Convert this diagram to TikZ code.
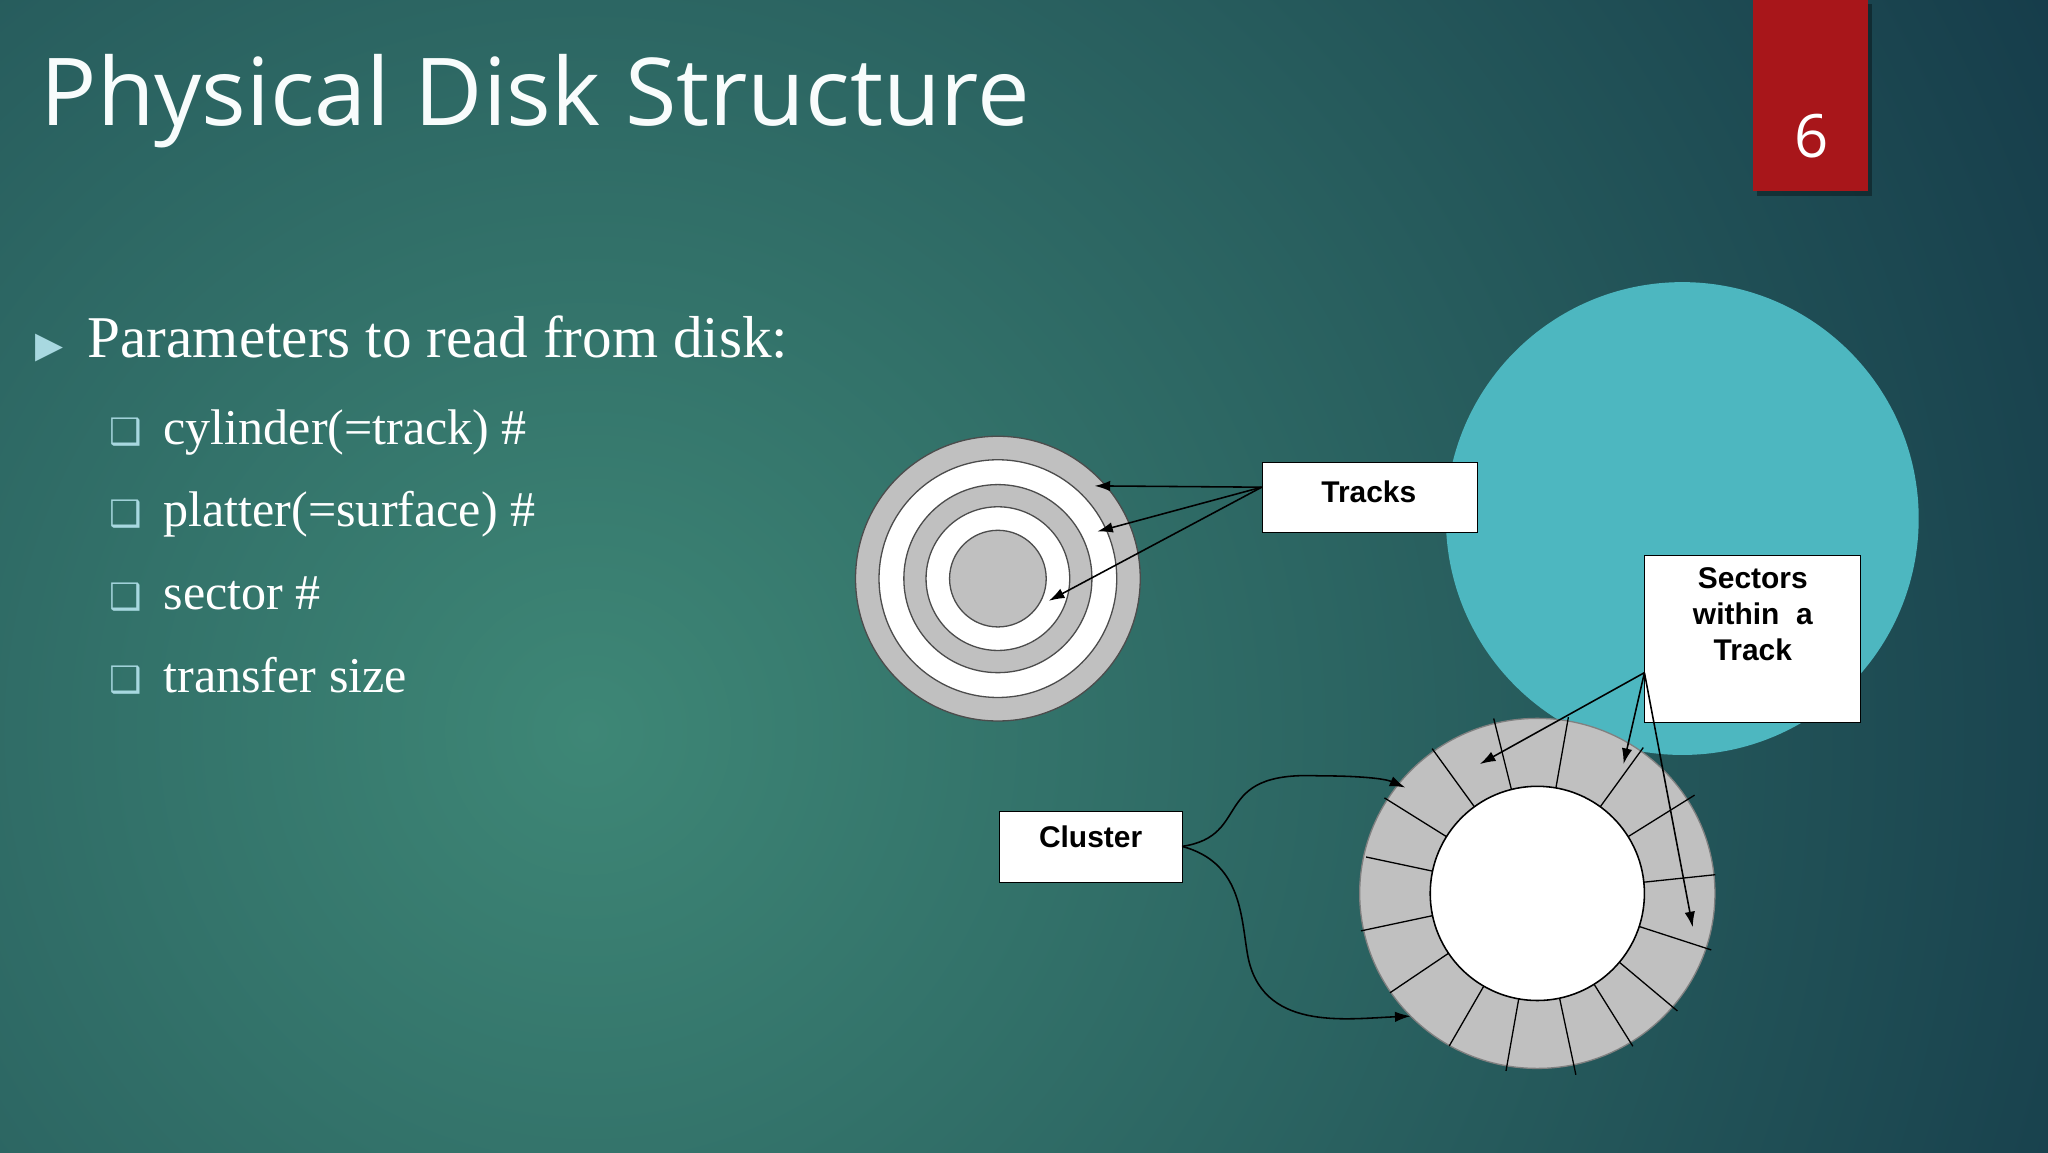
\documentclass[tikz,border=0pt]{standalone}
\usepackage{fontspec}
\setmainfont{Liberation Serif}
\newfontfamily\titlefont{Open Sans}
\newfontfamily\lblfont{Liberation Sans}
\newfontfamily\symfont{DejaVu Sans}
\usetikzlibrary{arrows.meta,shadows,calc}
\definecolor{bgin}{HTML}{3E8776}
\definecolor{bgout}{HTML}{0E2E42}
\definecolor{redbox}{HTML}{A8161A}
\definecolor{tealc}{HTML}{4DB7C0}
\definecolor{diskgray}{HTML}{C0C0C0}
\definecolor{bul}{HTML}{A8D8E0}
\tikzset{
  lbox/.style={draw=black,fill=white,line width=0.8bp,inner sep=0pt},
  lbl/.style={font=\lblfont\bfseries\fontsize{23}{27.5}\selectfont,align=center},
  arr/.style={-{Latex[length=12bp,width=8bp]},line width=1.2bp},
  ring/.style={draw=black!70,line width=1bp},
  item/.style={anchor=base west,text=white,font=\fontsize{38.5}{44}\selectfont,inner sep=0pt},
  sq/.style={anchor=base west,text=bul,font=\symfont\bfseries\fontsize{28}{30}\selectfont}
}
\begin{document}
\begin{tikzpicture}[x=1bp,y=-1bp]
\useasboundingbox (0,0) rectangle (1568,882);
\shade[inner color=bgin,outer color=bgout] (-1050,-940) rectangle (1950,2060);
% title
\node[anchor=base west,text=white!92!bul,font=\titlefont\fontsize{72}{80}\selectfont,inner sep=0pt] (title) at (31,96) {Physical Disk Structure};
% page number
\fill[black,opacity=0.35] (1345,3) rectangle (1433,150);
\fill[redbox] (1342,0) rectangle (1430,146);
\node[text=white,font=\titlefont\fontsize{46}{50}\selectfont] (num) at (1387,104) {6};
% bullets
\node[anchor=base west,text=bul,font=\symfont\fontsize{28}{30}\selectfont] (b0) at (24,274) {▶};
\node[anchor=base west,text=white,font=\fontsize{45.5}{50}\selectfont,inner sep=0pt] (t0) at (67,274) {Parameters to read from disk:};
\node[sq] (s1) at (80,340) {❑}; \node[item] (t1) at (125,340) {cylinder(=track) \#};
\node[sq] (s2) at (80,403) {❑}; \node[item] (t2) at (125,403) {platter(=surface) \#};
\node[sq] (s3) at (80,467) {❑}; \node[item] (t3) at (125,467) {sector \#};
\node[sq] (s4) at (80,530) {❑}; \node[item] (t4) at (125,530) {transfer size};
% teal circle
\fill[tealc] (1288,397) circle (181);
% concentric disk
\coordinate (dc) at (764,443);
\filldraw[ring,fill=diskgray] (dc) circle (109);
\filldraw[ring,fill=white] (dc) circle (91);
\filldraw[ring,fill=diskgray] (dc) circle (72);
\filldraw[ring,fill=white] (dc) circle (55);
\filldraw[ring,fill=diskgray] (dc) circle (37);
\node[lbox,minimum width=165bp,minimum height=53bp,anchor=north west] (tracks) at (966,354) {};
\node[lbl,anchor=base] (tracksl) at (1048,385) {Tracks};
\coordinate (tk) at (966,373);
\coordinate (ta1) at (838,372);
\coordinate (ta2) at (840,407);
\coordinate (ta3) at (803,460);
\draw[arr] (tk) -- (ta1);
\draw[arr] (tk) -- (ta2);
\draw[arr] (tk) -- (ta3);
% sector disk
\coordinate (sc) at (1177,684);
\filldraw[draw=black!50,line width=1bp,fill=diskgray] (sc) ellipse (136 and 134);
\foreach \a/\r in {100/138,120/135,146/136,168/138,192/134,212/138,234/137,256/138,280/137,306/138,328/142,354/137,18/140,40/140,58/138,78/142}{
  \draw[line width=1bp] ($(sc)+(\a:82)$) -- ($(sc)+(\a:\r)$);
}
\filldraw[draw=black,line width=1.2bp,fill=white] (sc) circle (82);
% sectors box
\node[lbox,minimum width=165bp,minimum height=128bp,anchor=north west] (sectors) at (1259,425) {};
\node[lbl,anchor=north] (sectl) at (1342,431) {Sectors\\within~~a\\Track};
\coordinate (sk) at (1259,515);
\coordinate (sa1) at (1133,585);
\coordinate (sa2) at (1243,585);
\coordinate (sa3) at (1296,710);
\draw[arr] (sk) -- (sa1);
\draw[arr] (sk) -- (sa2);
\draw[arr] (sk) -- (sa3);
% cluster
\node[lbox,minimum width=140bp,minimum height=54bp,anchor=north west] (cluster) at (765,621) {};
\node[lbl,anchor=base] (clusterl) at (835,649) {Cluster};
\coordinate (ck) at (905,648);
\coordinate (ca1) at (1076,603);
\coordinate (ca2) at (1080,778);
\draw[arr] (ck) .. controls (960,640) and (925,590) .. (1010,594) .. controls (1040,594) and (1060,596) .. (ca1);
\draw[arr] (ck) .. controls (950,660) and (950,700) .. (955,730) .. controls (965,790) and (1030,780) .. (ca2);
\end{tikzpicture}
\end{document}
